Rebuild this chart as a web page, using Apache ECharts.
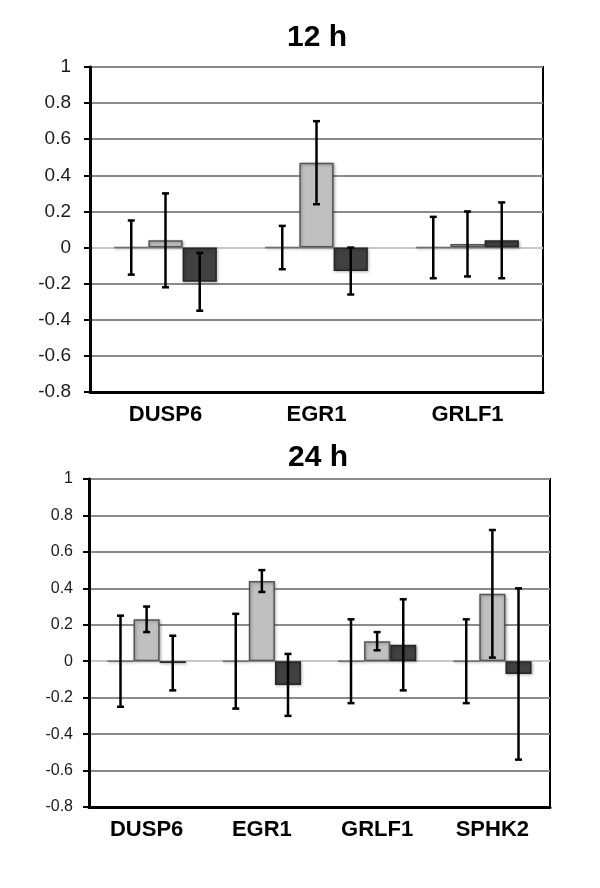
<!DOCTYPE html>
<html>
<head>
<meta charset="utf-8">
<script src="https://cdn.jsdelivr.net/npm/echarts@6/dist/echarts.min.js"></script>
<style>html,body{margin:0;padding:0;background:#fff}#c{width:600px;height:888px}</style>
</head>
<body>
<div id="c"></div>
<script>
// ---- Data ----
const titles = ['12 h', '24 h'];
const yTicks = { min: -0.8, max: 1, interval: 0.2 };

const cats12 = ['DUSP6', 'EGR1', 'GRLF1'];
const ctrl12 = [0, 0, 0];
const ctrlErr12 = [0.15, 0.12, 0.17];
const treatA12 = [0.04, 0.47, 0.02];
const errA12 = [0.26, 0.23, 0.18];
const treatB12 = [-0.19, -0.13, 0.04];
const errB12 = [0.16, 0.13, 0.21];

const cats24 = ['DUSP6', 'EGR1', 'GRLF1', 'SPHK2'];
const ctrl24 = [0, 0, 0, 0];
const ctrlErr24 = [0.25, 0.26, 0.23, 0.23];
const treatA24 = [0.23, 0.44, 0.11, 0.37];
const errA24 = [0.07, 0.06, 0.05, 0.35];
const treatB24 = [-0.01, -0.13, 0.09, -0.07];
const errB24 = [0.15, 0.17, 0.25, 0.47];

// ---- Chart ----
const FONT = 'Liberation Sans, Arial, sans-serif';
const GAP = 0.32; // barCategoryGap
const barStyles = [
  { color: '#ffffff', borderColor: '#6e6e6e' },
  { color: '#c0c0c0', borderColor: '#555555' },
  { color: '#414141', borderColor: '#262626' }
];

function errRender(idx) {
  return function (params, api) {
    const x = api.value(0), y = api.value(1), e = api.value(2);
    const band = api.size([1, 0])[0];
    const w = band * (1 - GAP) / 3;
    const p = api.coord([x, y]);
    const cx = p[0] - band * (1 - GAP) / 2 + w * (idx + 0.5);
    const top = api.coord([x, y + e])[1];
    const bot = api.coord([x, y - e])[1];
    const st = { stroke: '#000', lineWidth: 2.5 };
    const cap = 3.5;
    return {
      type: 'group',
      children: [
        { type: 'line', shape: { x1: cx, y1: top, x2: cx, y2: bot }, style: st },
        { type: 'line', shape: { x1: cx - cap, y1: top, x2: cx + cap, y2: top }, style: st },
        { type: 'line', shape: { x1: cx - cap, y1: bot, x2: cx + cap, y2: bot }, style: st }
      ]
    };
  };
}

function makeSeries(gi, vals, errs) {
  const out = [];
  vals.forEach((v, i) => {
    out.push({
      type: 'bar', xAxisIndex: gi, yAxisIndex: gi,
      data: v, barGap: '0%', barCategoryGap: (GAP * 100) + '%',
      itemStyle: Object.assign({ borderWidth: 1.5, shadowBlur: 3, shadowColor: 'rgba(0,0,0,0.3)', shadowOffsetX: 1, shadowOffsetY: 1 }, barStyles[i]),
      z: 3, animation: false, silent: true
    });
  });
  vals.forEach((v, i) => {
    out.push({
      type: 'custom', xAxisIndex: gi, yAxisIndex: gi,
      renderItem: errRender(i),
      encode: { x: 0, y: 1 },
      data: v.map((val, k) => [k, val, errs[i][k]]),
      z: 5, animation: false, silent: true
    });
  });
  return out;
}

const gridLineColors = [];
for (let v = yTicks.min; v <= yTicks.max + 1e-9; v += yTicks.interval) {
  gridLineColors.push(Math.abs(v) < 1e-9 ? '#c8c8c8' : '#8a8a8a');
}

function yAxis(gi, fontSize, margin) {
  return {
    type: 'value', gridIndex: gi,
    min: yTicks.min, max: yTicks.max, interval: yTicks.interval,
    axisLine: { show: true, lineStyle: { color: '#000', width: 3 } },
    axisTick: { show: true, length: 6, lineStyle: { color: '#000', width: 2 } },
    axisLabel: { fontFamily: FONT, fontSize: fontSize, color: '#1a1a1a', margin: margin,
      formatter: v => String(+v.toFixed(1)) },
    splitLine: { show: true, lineStyle: { color: gridLineColors, width: 2 } }
  };
}

function xAxis(gi, cats) {
  return {
    type: 'category', gridIndex: gi, data: cats,
    axisLine: { show: true, onZero: false, lineStyle: { color: '#000', width: 3 } },
    axisTick: { show: false },
    axisLabel: { fontFamily: FONT, fontSize: 22, fontWeight: 'bold', color: '#000', margin: 12 },
    splitLine: { show: false }
  };
}

const chart = echarts.init(document.getElementById('c'), null, { renderer: 'canvas' });
chart.setOption({
  backgroundColor: '#fff',
  animation: false,
  title: [
    { text: titles[0], left: 312, top: 18, textAlign: 'center',
      textStyle: { fontFamily: FONT, fontSize: 30, fontWeight: 'bold', color: '#000' } },
    { text: titles[1], left: 313, top: 438, textAlign: 'center',
      textStyle: { fontFamily: FONT, fontSize: 30, fontWeight: 'bold', color: '#000' } }
  ],
  grid: [
    { left: 90, top: 67, width: 453, height: 325, show: true, borderColor: '#000', borderWidth: 2, backgroundColor: 'transparent' },
    { left: 89, top: 479, width: 461, height: 328, show: true, borderColor: '#000', borderWidth: 2, backgroundColor: 'transparent' }
  ],
  xAxis: [xAxis(0, cats12), xAxis(1, cats24)],
  yAxis: [yAxis(0, 19, 19), yAxis(1, 16, 16)],
  series: [].concat(
    makeSeries(0, [ctrl12, treatA12, treatB12], [ctrlErr12, errA12, errB12]),
    makeSeries(1, [ctrl24, treatA24, treatB24], [ctrlErr24, errA24, errB24])
  )
});
</script>
</body>
</html>
